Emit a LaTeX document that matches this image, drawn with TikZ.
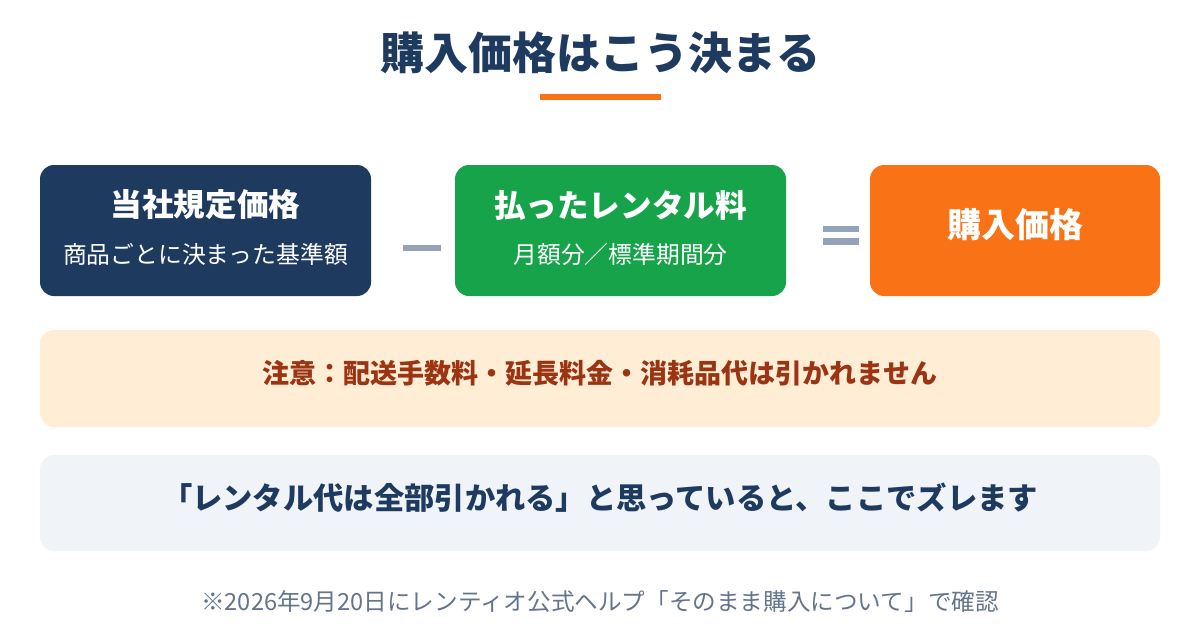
\documentclass[tikz,border=0pt]{standalone}
\usepackage{fontspec}
\setmainfont{Noto Sans CJK JP}
\definecolor{navy}{HTML}{1E3A5F}
\definecolor{grn}{HTML}{16A34A}
\definecolor{org}{HTML}{F97316}
\definecolor{opgray}{HTML}{94A3B8}
\definecolor{notefill}{HTML}{FFEDD5}
\definecolor{notetext}{HTML}{9A3412}
\definecolor{tipfill}{HTML}{F0F4F9}
\definecolor{foot}{HTML}{64748B}
\tikzset{
  card/.style={rounded corners=14pt, draw=none},
  lbl/.style={inner sep=0pt, outer sep=0pt},
  bigw/.style={lbl, text=white, font=\fontsize{31.6}{38}\selectfont\bfseries},
  smallw/.style={lbl, text=white, font=\fontsize{23.8}{28}\selectfont},
  opbar/.style={fill=opgray, draw=none},
}
\begin{document}
\begin{tikzpicture}[x=1pt,y=-1pt]
\useasboundingbox (0,0) rectangle (1200,640);
\fill[white] (0,0) rectangle (1200,640);
% title
\node[lbl, text=navy, font=\fontsize{44}{52}\selectfont\bfseries] (title) at (600,53) {購入価格はこう決まる};
\fill[org] (540,94) rectangle (661,100);
% cards
\fill[card, navy] (40,165) rectangle (371,296);
\node[bigw] (t1) at (205.5,205) {当社規定価格};
\node[smallw] (s1) at (205.5,254) {商品ごとに決まった基準額};
\fill[opbar] (403,245) rectangle (441,251);
\fill[card, grn] (455,165) rectangle (786,296);
\node[bigw] (t2) at (620.5,205) {払ったレンタル料};
\node[smallw] (s2) at (620.5,254) {月額分／標準期間分};
\fill[opbar] (823,226) rectangle (859,232);
\fill[opbar] (823,238) rectangle (859,245);
\fill[card, org] (870,165) rectangle (1160,296);
\node[bigw, font=\fontsize{34}{40}\selectfont\bfseries] (t3) at (1015,225) {購入価格};
% note
\fill[card, notefill] (40,330) rectangle (1160,427);
\node[lbl, text=notetext, font=\fontsize{27}{32}\selectfont\bfseries] (note) at (600,373) {注意：配送手数料・延長料金・消耗品代は引かれません};
% tip
\fill[card, tipfill] (40,455) rectangle (1160,551);
\node[lbl, text=navy, font=\fontsize{30.3}{36}\selectfont\bfseries] (tip) at (600,498) {「レンタル代は全部引かれる」と思っていると、ここでズレます};
% footer
\node[lbl, text=foot, font=\fontsize{23.6}{28}\selectfont] (footer) at (600,602) {※2026年9月20日にレンティオ公式ヘルプ「そのまま購入について」で確認};
\end{tikzpicture}
\end{document}
